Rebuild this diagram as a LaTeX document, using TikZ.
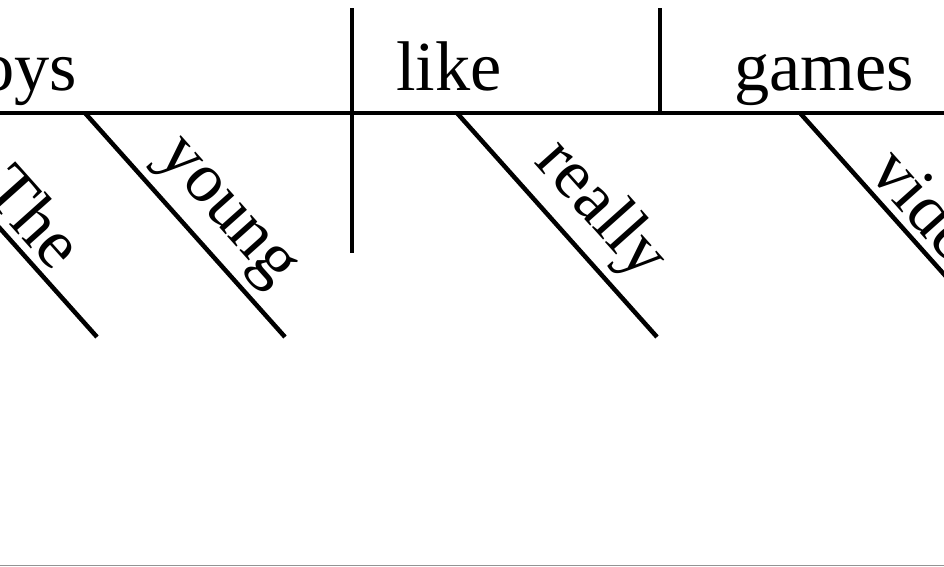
\documentclass[tikz,border=0pt]{standalone}
\usepackage{fontspec}
\setmainfont{Liberation Serif}
\tikzset{
  rule/.style={line width=3.2pt},
  word/.style={font=\fontsize{50}{50}\selectfont, inner sep=0pt},
  modword/.style={word, sloped, above, inner sep=5pt, pos=0.56}
}
\begin{document}
\begin{tikzpicture}[x=0.025cm,y=-0.025cm]
    \clip (0,0) rectangle (944,566);
    %% Base line and dividers
    \coordinate (left) at (0,113);
    \coordinate (right) at (944,113);
    \coordinate (subjtop) at (352,8);
    \coordinate (subjbot) at (352,253);
    \coordinate (objtop) at (660,8);
    \coordinate (objbot) at (660,113);
    \draw[rule] (left) -- (right);
    \draw[rule] (subjtop) -- (subjbot);
    \draw[rule] (objtop) -- (objbot);
    %% Words on the base line
    \node[word, anchor=base east] (subj) at (77,90) {boys};
    \node[word, anchor=base west] (verb) at (396,90) {like};
    \node[word, anchor=base west] (obj) at (734,90) {games};
    %% Modifiers
    \foreach \w/\x in {The/-103, young/85, really/457, video/800}
        \draw[rule] (\x,113) coordinate (m-\w) -- ++(200,224) node[modword] {\w};
    %% Frame edge
    \draw[gray!85, line width=1.2pt] (0,565.5) -- (944,565.5);
\end{tikzpicture}
\end{document}
